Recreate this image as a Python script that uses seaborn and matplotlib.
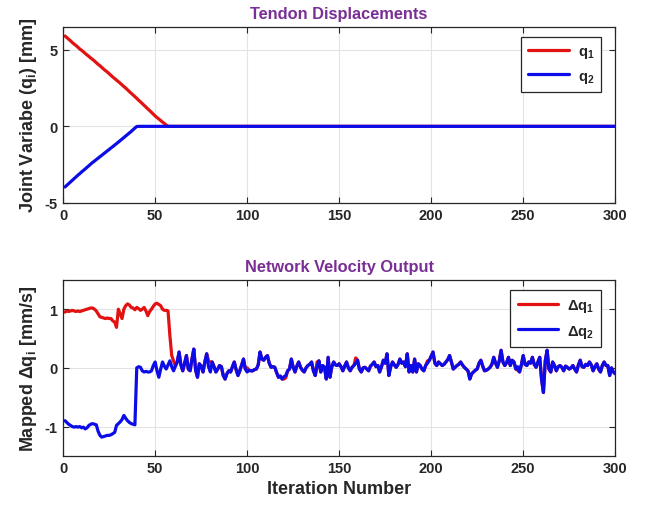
import numpy as np
import pandas as pd
import matplotlib
matplotlib.use("Agg")
import matplotlib.pyplot as plt
import seaborn as sns

# iterations 1..300
iterations = np.arange(1, 301)

# --- top panel: tendon displacements ---
q1_ramp = [5.90, 5.80, 5.69, 5.59, 5.47, 5.37, 5.28, 5.17, 5.06, 4.97,
           4.87, 4.76, 4.66, 4.57, 4.46, 4.37, 4.27, 4.16, 4.05, 3.96,
           3.85, 3.74, 3.64, 3.55, 3.44, 3.33, 3.22, 3.12, 3.02, 2.92,
           2.82, 2.71, 2.60, 2.50, 2.38, 2.27, 2.16, 2.05, 1.94, 1.82,
           1.71, 1.60, 1.49, 1.37, 1.26, 1.14, 1.03, 0.91, 0.80, 0.68,
           0.58, 0.48, 0.38, 0.28, 0.19, 0.09, 0.01]
q2_ramp = [-3.96, -3.85, -3.74, -3.63, -3.52, -3.41, -3.30, -3.19, -3.09, -2.98,
           -2.88, -2.78, -2.67, -2.57, -2.46, -2.36, -2.27, -2.17, -2.08, -1.98,
           -1.89, -1.79, -1.70, -1.60, -1.51, -1.41, -1.32, -1.22, -1.13, -1.03,
           -0.93, -0.83, -0.73, -0.63, -0.53, -0.43, -0.33, -0.22, -0.11, -0.01]
q1 = q1_ramp + [0.0] * (300 - len(q1_ramp))
q2 = q2_ramp + [0.0] * (300 - len(q2_ramp))

# --- bottom panel: network velocity output ---
dq1 = [0.95, 0.97, 0.96, 0.97, 0.98, 0.97, 0.96, 0.97, 0.96, 0.97,
       0.98, 0.99, 1.00, 1.01, 1.02, 1.02, 1.00, 0.97, 0.92, 0.87,
       0.86, 0.85, 0.84, 0.85, 0.84, 0.84, 0.80, 0.78, 0.69, 1.00,
       0.92, 0.84, 1.00, 1.06, 1.09, 1.07, 1.03, 1.02, 0.99, 1.03,
       1.01, 0.98, 1.00, 1.03, 0.97, 0.89, 0.96, 1.00, 1.05, 1.09,
       1.10, 1.08, 1.06, 1.00, 0.98, 0.98, 0.97, 0.55, 0.21, 0.12,
       0.03, 0.10, 0.27, 0.05, -0.05, 0.08, 0.21, -0.02, -0.05, 0.15,
       0.32, -0.04, -0.16, 0.07, 0.03, -0.07, 0.10, 0.24, 0.12, 0.10,
       0.10, 0.02, -0.07, -0.02, 0.04, 0.02, -0.13, -0.19, -0.10, -0.05,
       -0.07, 0.02, 0.10, -0.03, -0.13, -0.05, 0.05, 0.15, -0.02, 0.00,
       -0.04, -0.05, -0.05, -0.03, -0.02, 0.05, 0.27, 0.15, 0.13, 0.18,
       0.21, 0.08, 0.01, 0.02, 0.01, -0.08, -0.16, -0.14, -0.19, -0.19,
       -0.17, -0.05, -0.02, 0.15, 0.01, -0.07, 0.03, 0.10, 0.01, -0.04,
       -0.07, 0.00, 0.04, 0.06, 0.10, -0.05, -0.13, 0.10, 0.12, -0.07,
       0.04, 0.01, -0.19, 0.18, -0.16, 0.02, 0.10, 0.05, 0.04, 0.07,
       0.02, -0.05, 0.03, 0.10, 0.00, -0.05, 0.01, 0.04, 0.17, 0.13,
       -0.02, -0.07, 0.00, 0.01, -0.02, -0.05, 0.03, 0.06, 0.10, 0.02,
       0.04, -0.07, 0.02, 0.13, 0.08, 0.24, -0.13, 0.02, 0.10, 0.05,
       0.01, 0.06, 0.15, 0.08, 0.10, 0.02, 0.24, -0.07, 0.04, -0.07,
       0.15, -0.07, 0.07, 0.04, -0.02, -0.05, 0.04, 0.12, 0.13, 0.20,
       0.27, 0.08, 0.04, 0.10, 0.07, 0.04, 0.06, 0.10, 0.14, 0.21,
       0.10, -0.02, 0.01, 0.04, 0.06, 0.10, 0.05, 0.01, -0.02, -0.05,
       -0.19, -0.10, -0.07, -0.04, -0.02, 0.08, 0.13, 0.03, -0.05, -0.04,
       -0.02, 0.01, 0.06, 0.18, 0.08, 0.01, 0.12, 0.30, 0.10, 0.04,
       0.09, 0.18, 0.04, 0.13, 0.10, -0.02, -0.04, -0.07, 0.05, 0.21,
       0.06, 0.04, 0.10, 0.08, 0.18, 0.06, 0.01, 0.10, 0.18, -0.20,
       -0.42, 0.12, 0.30, -0.02, -0.07, 0.10, 0.04, -0.05, 0.02, 0.04,
       0.01, -0.05, 0.03, 0.01, -0.02, 0.00, 0.04, -0.02, -0.07, 0.05,
       0.13, 0.02, 0.01, 0.06, 0.04, 0.10, 0.05, -0.05, 0.02, 0.07,
       -0.02, -0.07, 0.04, 0.10, 0.04, 0.04, -0.13, 0.00, -0.07, -0.10]

dq2 = [-0.90, -0.93, -0.96, -0.98, -1.00, -1.01, -1.00, -1.01, -1.00, -1.02,
       -1.01, -1.04, -1.02, -0.98, -0.96, -0.95, -0.96, -0.97, -1.08, -1.15,
       -1.18, -1.17, -1.16, -1.15, -1.15, -1.14, -1.12, -1.10, -0.98, -0.95,
       -0.92, -0.88, -0.81, -0.86, -0.90, -0.93, -0.95, -0.96, -0.97, 0.00,
       0.02, 0.01, -0.05, -0.07, -0.06, -0.07, -0.07, -0.05, 0.04, 0.10,
       -0.05, -0.16, -0.02, 0.10, 0.03, -0.02, 0.05, 0.12, 0.02, -0.05,
       0.03, 0.10, 0.27, 0.05, -0.05, 0.08, 0.21, -0.02, -0.05, 0.15,
       0.32, -0.04, -0.16, 0.07, 0.03, -0.07, 0.10, 0.24, 0.02, -0.07,
       0.10, 0.02, -0.07, -0.02, 0.04, 0.02, -0.13, -0.19, -0.10, -0.05,
       -0.07, 0.02, 0.10, -0.03, -0.13, -0.05, 0.05, 0.15, -0.02, -0.07,
       -0.04, -0.05, -0.05, -0.03, -0.02, 0.05, 0.27, 0.15, 0.13, 0.18,
       0.21, 0.08, 0.01, 0.02, 0.01, -0.08, -0.16, -0.14, -0.19, -0.15,
       -0.13, -0.05, -0.02, 0.15, 0.01, -0.07, 0.03, 0.10, 0.01, -0.04,
       -0.07, 0.00, 0.04, 0.06, 0.10, -0.05, -0.13, 0.03, 0.12, -0.07,
       0.04, 0.01, -0.19, 0.18, -0.16, 0.02, 0.10, 0.05, 0.04, 0.07,
       0.02, -0.05, 0.03, 0.10, 0.00, -0.05, 0.01, 0.04, 0.08, 0.13,
       -0.02, -0.07, 0.00, 0.01, -0.02, -0.05, 0.03, 0.06, 0.10, 0.02,
       0.04, -0.07, 0.02, 0.13, 0.08, 0.24, -0.13, 0.02, 0.10, 0.05,
       0.01, 0.06, 0.15, 0.08, 0.10, 0.02, 0.24, -0.07, 0.04, -0.07,
       0.15, -0.07, 0.07, 0.04, -0.02, -0.05, 0.04, 0.08, 0.13, 0.20,
       0.27, 0.08, 0.04, 0.10, 0.07, 0.04, 0.06, 0.10, 0.14, 0.21,
       0.10, -0.02, 0.01, 0.04, 0.06, 0.10, 0.05, 0.01, -0.02, -0.05,
       -0.19, -0.10, -0.07, -0.04, -0.02, 0.08, 0.13, 0.03, -0.05, -0.04,
       -0.02, 0.01, 0.06, 0.18, 0.08, 0.01, 0.12, 0.30, 0.10, 0.04,
       0.09, 0.18, 0.04, 0.13, 0.10, -0.02, 0.02, -0.07, 0.05, 0.21,
       0.06, 0.04, 0.10, 0.08, 0.18, 0.06, 0.01, 0.10, 0.18, -0.20,
       -0.42, 0.12, 0.30, -0.02, -0.07, 0.10, 0.04, -0.05, 0.02, 0.04,
       0.01, -0.05, 0.03, 0.01, -0.02, 0.00, 0.04, -0.02, -0.07, 0.05,
       0.13, 0.02, 0.01, 0.06, 0.04, 0.10, 0.05, -0.05, 0.02, 0.07,
       -0.02, -0.07, 0.04, 0.10, 0.04, 0.04, -0.13, 0.00, -0.07, -0.10]

x_ticks = [0, 50, 100, 150, 200, 250, 300]
top_yticks = [-5, 0, 5]
bot_yticks = [-1, 0, 1]

RED = "#e31212"
BLUE = "#0c0ce8"
PURPLE = "#7a2f96"

sns.set_style("whitegrid", {
    "grid.color": "#e3e3e3",
    "axes.edgecolor": "#262626",
    "xtick.direction": "in",
    "ytick.direction": "in",
    "xtick.top": True,
    "ytick.right": True,
    "xtick.bottom": True,
    "ytick.left": True,
})
plt.rcParams["font.family"] = ["Liberation Sans", "DejaVu Sans"]
plt.rcParams["font.weight"] = "bold"
plt.rcParams["axes.labelweight"] = "bold"
plt.rcParams["axes.titleweight"] = "bold"
plt.rcParams["axes.unicode_minus"] = False
plt.rcParams["mathtext.fontset"] = "custom"
plt.rcParams["mathtext.rm"] = "Liberation Sans:bold"
plt.rcParams["mathtext.it"] = "Liberation Sans:bold"
plt.rcParams["mathtext.bf"] = "Liberation Sans:bold"

fig = plt.figure(figsize=(6.51, 5.06), dpi=100)
ax1 = fig.add_axes([0.097, 0.597, 0.848, 0.348])
ax2 = fig.add_axes([0.097, 0.097, 0.848, 0.348])

top_df = pd.DataFrame({"it": iterations, "q1": q1, "q2": q2})
bot_df = pd.DataFrame({"it": iterations, "dq1": dq1, "dq2": dq2})

sns.lineplot(data=top_df, x="it", y="q1", ax=ax1, color=RED, lw=2.3, label=r"$\mathbf{q_1}$")
sns.lineplot(data=top_df, x="it", y="q2", ax=ax1, color=BLUE, lw=2.3, label=r"$\mathbf{q_2}$")
sns.lineplot(data=bot_df, x="it", y="dq1", ax=ax2, color=RED, lw=2.3, label=r"$\mathbf{\Delta q_1}$")
sns.lineplot(data=bot_df, x="it", y="dq2", ax=ax2, color=BLUE, lw=2.3, label=r"$\mathbf{\Delta q_2}$")

for ax, yt in ((ax1, top_yticks), (ax2, bot_yticks)):
    ax.set_xlim(0, 300)
    ax.set_xticks(x_ticks)
    ax.set_yticks(yt)
    ax.tick_params(labelsize=10.5, length=4, width=0.8, color="#262626", pad=4)
    for lab in ax.get_xticklabels() + ax.get_yticklabels():
        lab.set_fontweight("bold")
    for sp in ax.spines.values():
        sp.set_linewidth(0.9)
    leg = ax.legend(loc="upper right", bbox_to_anchor=(0.975, 0.945), borderaxespad=0,
                    fontsize=10.5, handlelength=2.8, handletextpad=0.6, frameon=True,
                    fancybox=False, edgecolor="#262626", framealpha=1,
                    borderpad=0.5, labelspacing=0.6)
    leg.get_frame().set_linewidth(0.9)

ax1.set_ylim(-5, 6.5)
ax2.set_ylim(-1.5, 1.5)

ax1.set_title("Tendon Displacements", color=PURPLE, fontsize=11.8, pad=6)
ax2.set_title("Network Velocity Output", color=PURPLE, fontsize=11.8, pad=6)
ax1.set_xlabel("")
ax1.set_ylabel(r"Joint Variabe (q$_\mathbf{i}$) [mm]", fontsize=13, labelpad=4)
ax2.set_ylabel(r"Mapped $\mathbf{\Delta}$q$_\mathbf{i}$ [mm/s]", fontsize=13, labelpad=4)
ax2.set_xlabel("Iteration Number", fontsize=13, labelpad=3)

fig.savefig("out.png", dpi=100)
